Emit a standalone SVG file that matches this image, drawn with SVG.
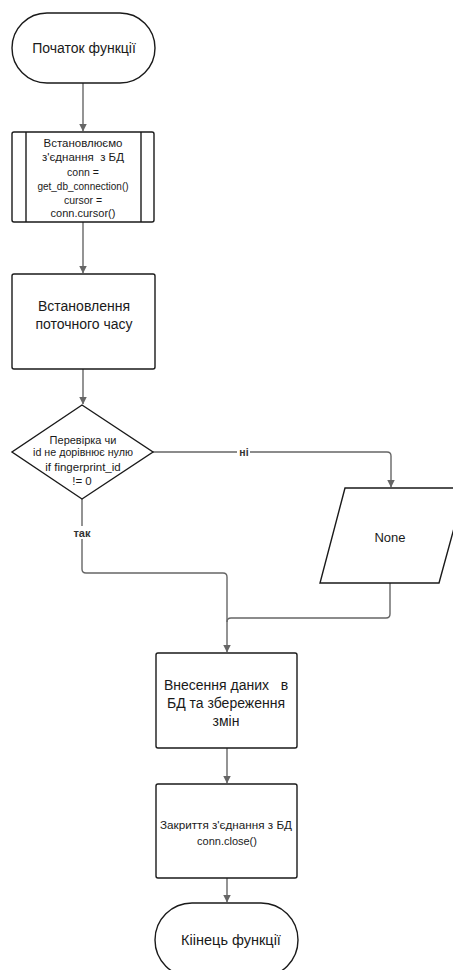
<svg xmlns="http://www.w3.org/2000/svg" width="453" height="970" viewBox="0 0 453 970">
<defs>
<marker id="arr" markerWidth="8" markerHeight="10" refX="7.5" refY="4" orient="auto" markerUnits="userSpaceOnUse">
<path d="M0,0 L8,4 L0,8 z" fill="#666"/>
</marker>
<style>
.shape{fill:#fff;stroke:#1a1a1a;stroke-width:1.4}
.conn{fill:none;stroke:#666;stroke-width:1.4}
text{font-family:"Liberation Sans",Arial,sans-serif;fill:#1a1a1a;text-anchor:middle;white-space:pre}
.t14{font-size:14px}
.t11{font-size:11px}
.lbl{font-weight:bold;fill:#333}
</style>
</defs>
<rect width="453" height="970" fill="#fff"/>
<g id="connectors">
<path class="conn" d="M83,83 V131" marker-end="url(#arr)"/>
<path class="conn" d="M83,222 V273" marker-end="url(#arr)"/>
<path class="conn" d="M83,369 V404" marker-end="url(#arr)"/>
<path class="conn" d="M153,452 H387 Q391,452 391,456 V487" marker-end="url(#arr)"/>
<path class="conn" d="M82,499 V569 Q82,573 86,573 H223 Q227,573 227,577 V652" marker-end="url(#arr)"/>
<path class="conn" d="M390,583 V614 Q390,618 386,618 H231 Q227,618 227,622"/>
<path class="conn" d="M227,748 V783" marker-end="url(#arr)"/>
<path class="conn" d="M227,878 V902" marker-end="url(#arr)"/>
<rect x="237" y="446" width="13" height="12" fill="#fff"/>
<text class="lbl" x="244" y="456" font-size="10.5">ні</text>
<rect x="70" y="526" width="24" height="13" fill="#fff"/>
<text class="lbl" x="82" y="537" font-size="11">так</text>
</g>
<g id="start">
<rect class="shape" x="12" y="13" width="143" height="70" rx="35" ry="35"/>
<text class="t14" x="84" y="53">Початок функції</text>
</g>
<g id="connect">
<rect class="shape" x="12" y="132" width="142" height="90" rx="2"/>
<line class="shape" x1="26" y1="132" x2="26" y2="222"/>
<line class="shape" x1="141" y1="132" x2="141" y2="222"/>
<text x="83" y="147" font-size="11.5">Встановлюємо</text>
<text x="83" y="161" font-size="11.5">з'єднання  з БД</text>
<text x="83" y="176" font-size="10.5">conn =</text>
<text x="83" y="190" font-size="10">get_db_connection()</text>
<text x="83" y="204" font-size="10.5">cursor =</text>
<text x="83" y="217" font-size="11">conn.cursor()</text>
</g>
<g id="time">
<rect class="shape" x="12" y="274" width="143" height="95" rx="2"/>
<text class="t14" x="84" y="311">Встановлення</text>
<text class="t14" x="84" y="329">поточного часу</text>
</g>
<g id="decision">
<path class="shape" d="M82,405 L153,452 L82,499 L12,452 Z"/>
<text class="t11" x="83" y="444">Перевірка чи</text>
<text x="83" y="456" font-size="10.7">id не дорівнює нулю</text>
<text x="83" y="471" font-size="11.5">if fingerprint_id</text>
<text x="82" y="485" font-size="11.5">!= 0</text>
</g>
<g id="none">
<path class="shape" d="M345,488 L465,488 L439,583 L320,583 Z"/>
<text x="390" y="542" font-size="13">None</text>
</g>
<g id="save">
<rect class="shape" x="156" y="653" width="141" height="95" rx="2"/>
<text class="t14" x="226" y="690">Внесення даних   в</text>
<text class="t14" x="226" y="708">БД та збереження</text>
<text class="t14" x="226" y="726">змін</text>
</g>
<g id="close">
<rect class="shape" x="156" y="784" width="141" height="94" rx="2"/>
<text x="226" y="829" font-size="11.7">Закриття з'єднання з БД</text>
<text x="227" y="845" font-size="11">conn.close()</text>
</g>
<g id="end">
<rect class="shape" x="155" y="903" width="143" height="74" rx="37" ry="37"/>
<text x="231" y="945" font-size="14.5">Кіінець функції</text>
</g>
</svg>
